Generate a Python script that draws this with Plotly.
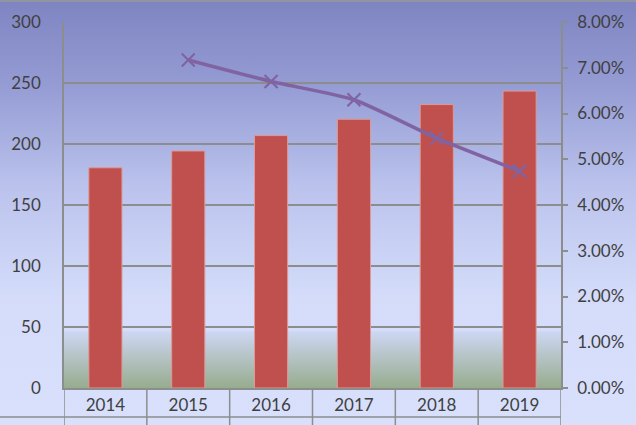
import plotly.graph_objects as go

# Données
annees = ['2014', '2015', '2016', '2017', '2018', '2019']
taille_marche = [180.5, 194.3, 206.9, 220.3, 232.3, 243.4]
croissance = [None, 0.0717, 0.0670, 0.0630, 0.0546, 0.0474]

W, H = 636, 425
gris = '#8C8E8E'
texte = '#404040'

fig = go.Figure()

# Fond dégradé (toute la page)
fig.add_trace(go.Scatter(
    x=[0, W, W, 0, 0], y=[0, 0, H, H, 0],
    xaxis='x', yaxis='y', mode='none', fill='toself',
    fillgradient=dict(type='vertical', start=0, stop=H,
                      colorscale=[[0, '#7E84C0'], [0.2, '#959CD4'], [0.45, '#BCC4EE'],
                                  [0.7, '#D4DCFA'], [1, '#D8E0FC']]),
    hoverinfo='skip', showlegend=False,
))

# Dégradé vert en bas de la zone de tracé
fig.add_trace(go.Scatter(
    x=[64, 561, 561, 64, 64], y=[331, 331, 388, 388, 331],
    xaxis='x', yaxis='y', mode='none', fill='toself',
    fillgradient=dict(type='vertical', start=331, stop=388,
                      colorscale=[[0, '#CED7F4'], [1, '#97AC8E']]),
    hoverinfo='skip', showlegend=False,
))

# Barres
fig.add_trace(go.Bar(
    x=annees, y=taille_marche, xaxis='x2', yaxis='y2',
    marker=dict(color='#C0504D', line=dict(color='#DE9A98', width=1)),
    showlegend=False,
))

# Courbe de croissance
fig.add_trace(go.Scatter(
    x=annees, y=croissance, xaxis='x2', yaxis='y3',
    mode='lines+markers', line=dict(color='#8064A2', width=3.5, shape='spline', smoothing=0.6),
    marker=dict(symbol='x-thin', size=13, line=dict(color='#8064A2', width=2.2)),
    connectgaps=False, showlegend=False,
))

# Lignes du tableau de données sous l'axe
bas_zone = 1 - 388 / H
shapes = []
for i in range(len(annees) + 1):
    shapes.append(dict(type='line', xref='x2', yref='paper', x0=i - 0.5, x1=i - 0.5,
                       y0=0, y1=bas_zone, line=dict(color=gris, width=1.5)))
shapes.append(dict(type='line', xref='paper', yref='paper', x0=0, x1=561 / W,
                   y0=1 - 417 / H, y1=1 - 417 / H, line=dict(color=gris, width=1.5)))
shapes.append(dict(type='line', xref='paper', yref='paper', x0=0, x1=1,
                   y0=1 - 1 / H, y1=1 - 1 / H, line=dict(color='#9A9A9A', width=1.5)))

police = dict(family='Lato', size=17, color=texte)

fig.update_layout(
    template='none',
    width=W, height=H,
    margin=dict(l=0, r=0, t=0, b=0, pad=0),
    paper_bgcolor='#D8E0FC',
    plot_bgcolor='rgba(0,0,0,0)',
    font=police,
    bargap=0.6,
    shapes=shapes,
    xaxis=dict(domain=[0, 1], range=[0, W], visible=False, fixedrange=True),
    yaxis=dict(domain=[0, 1], range=[H, 0], visible=False, fixedrange=True),
    xaxis2=dict(domain=[64 / W, 561 / W], anchor='y2', type='category',
                range=[-0.5, 5.5], showgrid=False, showline=True, linecolor=gris,
                linewidth=1.5, ticks='', ticklabelstandoff=1, tickfont=police,
                automargin=False, zeroline=False),
    yaxis2=dict(domain=[bas_zone, 1 - 22 / H], anchor='x2', range=[0, 300], dtick=50,
                showgrid=True, gridcolor=gris, gridwidth=1.5, showline=True,
                linecolor=gris, linewidth=1.5, ticks='', ticklabelstandoff=18,
                tickfont=police, automargin=False, zeroline=False),
    yaxis3=dict(overlaying='y2', anchor='x2', side='right', range=[0, 0.08], dtick=0.01,
                tickformat='.2%', showgrid=False, showline=True, linecolor=gris,
                linewidth=1.5, ticks='outside', ticklen=5, tickcolor=gris, tickwidth=1.5,
                ticklabelstandoff=6, tickfont=police, automargin=False, zeroline=False),
)

# la marge par défaut du <body> décalerait le graphique de 8 px
fig.write_html("out.html", config={'displayModeBar': False},
               post_script="document.body.style.margin = '0';")
